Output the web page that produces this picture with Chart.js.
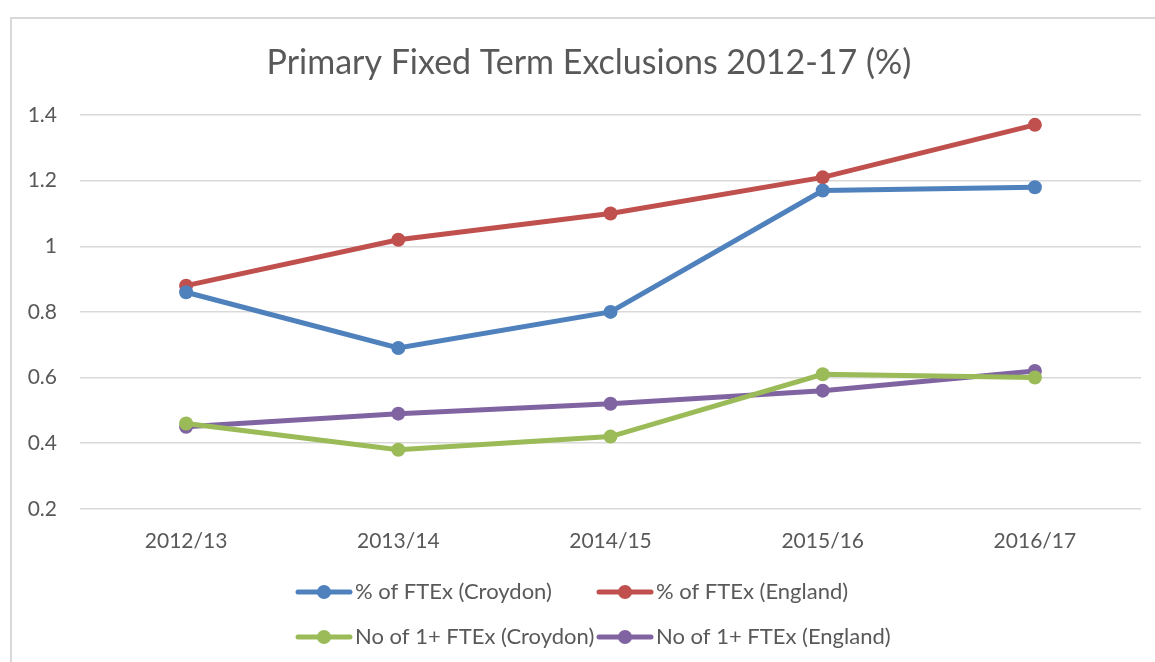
<!DOCTYPE html>
<html>
<head>
<meta charset="utf-8">
<script src="https://cdn.jsdelivr.net/npm/chart.js@4"></script>
<style>
  html, body { margin: 0; padding: 0; background: #fff; overflow: hidden; }
  #wrap { position: relative; width: 1155px; height: 662px; }
  #frame { position: absolute; left: 10px; top: 17px; width: 1200px; height: 700px;
           border: 2px solid #d9d9d9; box-sizing: border-box; }
  canvas { position: absolute; left: 0; top: 0; }
</style>
</head>
<body>
<div id="wrap">
  <div id="frame"></div>
  <canvas id="grafico" width="1155" height="662"></canvas>
</div>
<script>
const titulo = 'Primary Fixed Term Exclusions 2012-17 (%)';
const anos = ['2012/13', '2013/14', '2014/15', '2015/16', '2016/17'];

const pctCroydon = [0.86, 0.69, 0.80, 1.17, 1.18];
const pctEngland = [0.88, 1.02, 1.10, 1.21, 1.37];
const noCroydon = [0.46, 0.38, 0.42, 0.61, 0.60];
const noEngland = [0.45, 0.49, 0.52, 0.56, 0.62];

const nomes = [
    '% of FTEx (Croydon)',
    '% of FTEx (England)',
    'No of 1+ FTEx (Croydon)',
    'No of 1+ FTEx (England)'
];
const cores = ['#4f81bd', '#c0504d', '#9bbb59', '#8064a2'];

const fonte = 'Lato, "Open Sans", sans-serif';
const cinza = '#595959';

function serie(i, data) {
    return {
        label: nomes[i],
        data: data,
        borderColor: cores[i],
        backgroundColor: cores[i],
        borderWidth: 5,
        pointRadius: 7,
        pointHoverRadius: 7,
        pointBorderWidth: 0,
        tension: 0
    };
}

// título centrado na moldura e legenda em duas colunas, como no Excel
const extras = {
    id: 'extras',
    afterDraw(chart) {
        const c = chart.ctx;
        c.save();
        c.fillStyle = cinza;
        c.font = '34px ' + fonte;
        c.textAlign = 'center';
        c.textBaseline = 'middle';
        c.fillText(titulo, 589, 63);

        const colunas = [296, 597];
        const linhas = [592, 637];
        c.font = '22px ' + fonte;
        c.textAlign = 'left';
        chart.data.datasets.forEach((ds, i) => {
            const x = colunas[i % 2];
            const y = linhas[Math.floor(i / 2)];
            c.strokeStyle = ds.borderColor;
            c.lineWidth = 5;
            c.lineCap = 'round';
            c.beginPath();
            c.moveTo(x + 2, y);
            c.lineTo(x + 54, y);
            c.stroke();
            c.fillStyle = ds.borderColor;
            c.beginPath();
            c.arc(x + 28, y, 7, 0, Math.PI * 2);
            c.fill();
            c.fillStyle = cinza;
            c.fillText(ds.label, x + 59, y);
        });
        c.restore();
    }
};

const ctx = document.getElementById('grafico');

new Chart(ctx, {
    type: 'line',
    data: {
        labels: anos,
        datasets: [
            serie(0, pctCroydon),
            serie(1, pctEngland),
            serie(2, noCroydon),
            serie(3, noEngland)
        ]
    },
    options: {
        responsive: false,
        animation: false,
        layout: {
            padding: { top: 115, right: 14, bottom: 88, left: 0 }
        },
        plugins: {
            legend: { display: false },
            tooltip: { enabled: false },
            title: { display: false }
        },
        scales: {
            x: {
                offset: true,
                grid: { display: false, drawTicks: false },
                border: { display: false },
                ticks: {
                    color: cinza,
                    padding: 20,
                    font: { family: fonte, size: 21 }
                }
            },
            y: {
                min: 0.2,
                max: 1.4,
                afterFit: function(scale) { scale.width = 80; },
                grid: { color: '#d9d9d9', lineWidth: 1.5, drawTicks: false },
                border: { display: false },
                ticks: {
                    stepSize: 0.2,
                    color: cinza,
                    padding: 23,
                    font: { family: fonte, size: 21 },
                    callback: function(value) {
                        return String(Math.round(value * 10) / 10);
                    }
                }
            }
        }
    },
    plugins: [extras]
});
</script>
</body>
</html>
